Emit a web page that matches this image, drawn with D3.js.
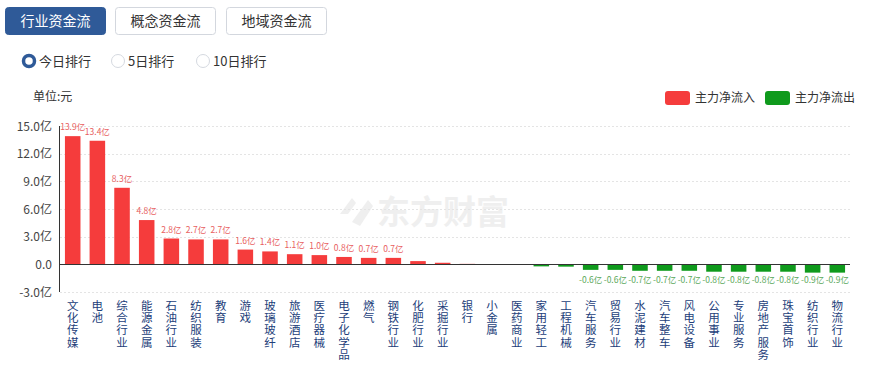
<!DOCTYPE html>
<html>
<head>
<meta charset="utf-8">
<script src="https://cdn.jsdelivr.net/npm/d3@7"></script>
<style>
  body { margin: 0; background: #fff; font-family: "Noto Sans CJK SC", "Noto Sans", sans-serif; }
</style>
</head>
<body>
<div id="chart"></div>
<script>
"use strict";

var categories = ["文化传媒", "电池", "综合行业", "能源金属", "石油行业", "纺织服装", "教育", "游戏",
    "玻璃玻纤", "旅游酒店", "医疗器械", "电子化学品", "燃气", "钢铁行业", "化肥行业", "采掘行业",
    "银行", "小金属", "医药商业", "家用轻工", "工程机械", "汽车服务", "贸易行业", "水泥建材",
    "汽车整车", "风电设备", "公用事业", "专业服务", "房地产服务", "珠宝首饰", "纺织行业", "物流行业"];
var values = [13.9, 13.4, 8.3, 4.8, 2.8, 2.7, 2.7, 1.6, 1.4, 1.1, 1.0, 0.8, 0.7, 0.7, 0.35, 0.17,
    0.05, 0.02, -0.05, -0.22, -0.25, -0.6, -0.6, -0.7, -0.7, -0.7, -0.8, -0.8, -0.8, -0.8, -0.9, -0.9];
var yTicks = [-3, 0, 3, 6, 9, 12, 15];
var tabs = ["行业资金流", "概念资金流", "地域资金流"];
var radios = ["今日排行", "5日排行", "10日排行"];
var legendNames = ["主力净流入", "主力净流出"];

var W = 872, H = 367;
var red = "#f53c3c", green = "#0f9a1c";

var svg = d3.select("#chart").append("svg")
    .attr("width", W)
    .attr("height", H);

// tab buttons
var tabX = [5, 115, 226];
tabs.forEach(function(t, i) {
    svg.append("rect")
        .attr("x", tabX[i] + 0.5).attr("y", 7.5)
        .attr("width", 100).attr("height", 27)
        .attr("rx", 3)
        .attr("fill", i == 0 ? "#2f5a98" : "#fff")
        .attr("stroke", i == 0 ? "#2f5a98" : "#d3d7de");
    svg.append("text")
        .attr("x", tabX[i] + 50.5).attr("y", 26)
        .attr("text-anchor", "middle")
        .style("font-size", "14px")
        .attr("fill", i == 0 ? "#fff" : "#333")
        .text(t);
});

// radio buttons
var radioX = [29, 118, 203];
radios.forEach(function(t, i) {
    if (i == 0) {
        svg.append("circle").attr("cx", radioX[i]).attr("cy", 61).attr("r", 5.5)
            .attr("fill", "#fff").attr("stroke", "#2f5a98").attr("stroke-width", 3.5);
    } else {
        svg.append("circle").attr("cx", radioX[i]).attr("cy", 61).attr("r", 6.5)
            .attr("fill", "#fff").attr("stroke", "#d5d9e0");
    }
    svg.append("text")
        .attr("x", radioX[i] + 10).attr("y", 66)
        .style("font-size", "13px")
        .attr("fill", "#333")
        .text(t);
});

// unit label
svg.append("text")
    .attr("x", 33).attr("y", 101)
    .style("font-size", "12px")
    .attr("fill", "#333")
    .text("单位:元");

// legend
legendNames.forEach(function(n, i) {
    var lx = 665 + i * 100;
    svg.append("rect")
        .attr("x", lx).attr("y", 91)
        .attr("width", 25).attr("height", 14)
        .attr("rx", 3)
        .attr("fill", i == 0 ? red : green);
    svg.append("text")
        .attr("x", lx + 30).attr("y", 102)
        .style("font-size", "12px")
        .attr("fill", "#333")
        .text(n);
});

// scales
var x = d3.scaleBand()
    .domain(categories)
    .range([60, 850])
    .paddingInner(0.37)
    .paddingOuter(0.2);

var y = d3.scaleLinear()
    .domain([-3, 15])
    .range([292, 126]);

// watermark
var wm = svg.append("g").attr("fill", "#efefef");
wm.append("path")
    .attr("d", "M340,214 L352,198 L356,203 L348,214 Z M352,222 L368,200 L373,206 L360,226 Z");
wm.append("text")
    .attr("x", 377).attr("y", 224)
    .style("font-size", "33px")
    .style("font-weight", "bold")
    .text("东方财富");

// grid lines
svg.append("g")
    .selectAll("line")
    .data(yTicks.filter(function(d) { return d != 0; }))
    .enter()
    .append("line")
    .attr("x1", 60).attr("x2", 850)
    .attr("y1", function(d) { return Math.round(y(d)) + 0.5; })
    .attr("y2", function(d) { return Math.round(y(d)) + 0.5; })
    .attr("stroke", "#e4e4e4")
    .attr("stroke-dasharray", "2,2");

// y axis labels
svg.append("g")
    .selectAll("text")
    .data(yTicks)
    .enter()
    .append("text")
    .attr("x", 52)
    .attr("y", function(d) { return y(d) + 4.5; })
    .attr("text-anchor", "end")
    .style("font-size", "12px")
    .attr("fill", "#444")
    .text(function(d) { return d == 0 ? "0.0" : d.toFixed(1) + "亿"; });

// y axis line
svg.append("line")
    .attr("x1", 59.5).attr("x2", 59.5)
    .attr("y1", y(15)).attr("y2", y(-3))
    .attr("stroke", "#333");

// bars
svg.append("g")
    .selectAll("rect")
    .data(values)
    .enter()
    .append("rect")
    .attr("x", function(d, i) { return x(categories[i]); })
    .attr("y", function(d) { return d >= 0 ? y(d) : y(0); })
    .attr("width", x.bandwidth())
    .attr("height", function(d) { return Math.abs(y(d) - y(0)); })
    .attr("fill", function(d) { return d >= 0 ? red : green; });

// zero line
svg.append("line")
    .attr("x1", 60).attr("x2", 850)
    .attr("y1", Math.round(y(0)) + 0.5).attr("y2", Math.round(y(0)) + 0.5)
    .attr("stroke", "#333");

// value labels (only bars big enough)
var labelled = values.map(function(v, i) { return {v: v, i: i}; })
    .filter(function(d) { return Math.abs(d.v) >= 0.5; });

svg.append("g")
    .selectAll("text")
    .data(labelled)
    .enter()
    .append("text")
    .attr("x", function(d) { return x(categories[d.i]) + x.bandwidth() / 2; })
    .attr("y", function(d) { return d.v >= 0 ? y(d.v) - 6 : y(0) + 19; })
    .attr("text-anchor", "middle")
    .style("font-size", "8.5px")
    .attr("fill", function(d) { return d.v >= 0 ? "#e86060" : "#5aa85a"; })
    .text(function(d) { return d.v.toFixed(1) + "亿"; });

// category labels, one character per line
var labels = svg.append("g")
    .selectAll("text")
    .data(categories)
    .enter()
    .append("text")
    .attr("text-anchor", "middle")
    .style("font-size", "11.5px")
    .attr("fill", "#23407a");

labels.selectAll("tspan")
    .data(function(d, i) {
        return d.split("").map(function(c) { return {c: c, i: i}; });
    })
    .enter()
    .append("tspan")
    .attr("x", function(d) { return x(categories[d.i]) + x.bandwidth() / 2; })
    .attr("y", function(d, j) { return 310 + j * 12.2; })
    .text(function(d) { return d.c; });
</script>
</body>
</html>
